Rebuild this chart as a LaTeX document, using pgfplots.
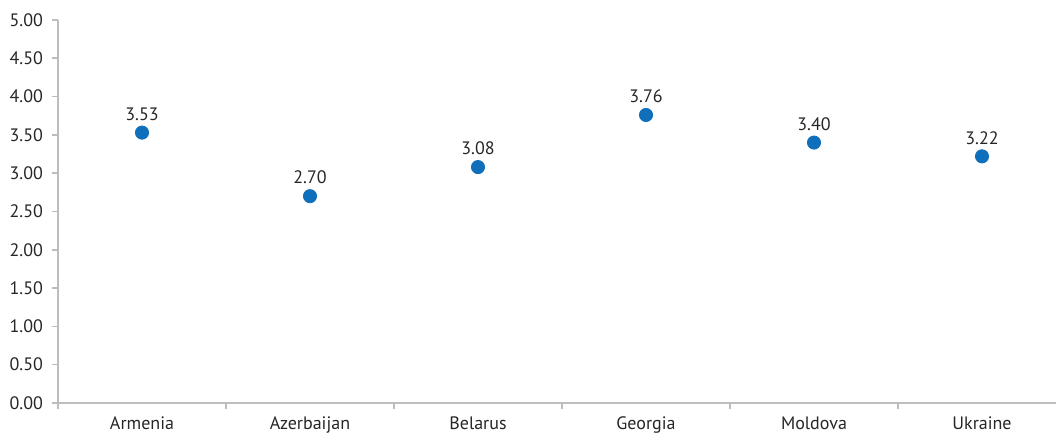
\documentclass[border=0pt]{standalone}
\usepackage{pgfplots}
\pgfplotsset{compat=1.18}
\usepackage{fontspec}
\setmainfont{PT Sans}
\definecolor{ptblue}{HTML}{0F6FBA}
\definecolor{axgray}{HTML}{BDBDBD}
\definecolor{txt}{HTML}{262626}
\begin{document}
\begin{tikzpicture}
\useasboundingbox (-29pt,-15pt) rectangle (499pt,201.5pt);
\begin{axis}[
  at={(0,0)}, anchor=south west,
  scale only axis,
  width=504pt, height=191.5pt,
  xmin=-0.5, xmax=5.5,
  ymin=0, ymax=5,
  ytick={0,0.5,...,5},
  xtick={-0.5,0.5,...,5.5},
  x tick label as interval,
  xticklabels={Armenia,Azerbaijan,Belarus,Georgia,Moldova,Ukraine},
  major tick length=3pt,
  tick align=outside,
  axis x line*=bottom, axis y line*=left,
  axis line style={axgray, line width=0.8pt, -},
  tick style={axgray, line width=0.8pt},
  yticklabel style={/pgf/number format/fixed, /pgf/number format/fixed zerofill, /pgf/number format/precision=2, /pgf/number format/assume math mode=true, xshift=-1pt},
  ticklabel style={font=\fontsize{9}{11}\selectfont, text=txt},
  xticklabel style={yshift=-0.3pt},
  clip=false,
  nodes near coords,
  nodes near coords style={font=\fontsize{9}{11}\selectfont, text=txt, anchor=south, yshift=2.5pt,
    /pgf/number format/fixed, /pgf/number format/fixed zerofill, /pgf/number format/precision=2, /pgf/number format/assume math mode=true},
]
\addplot[only marks, mark=*, mark size=3.3pt, mark options={draw=ptblue, fill=ptblue}]
  coordinates {(0,3.53) (1,2.70) (2,3.08) (3,3.76) (4,3.40) (5,3.22)};
\end{axis}
\end{tikzpicture}
\end{document}
